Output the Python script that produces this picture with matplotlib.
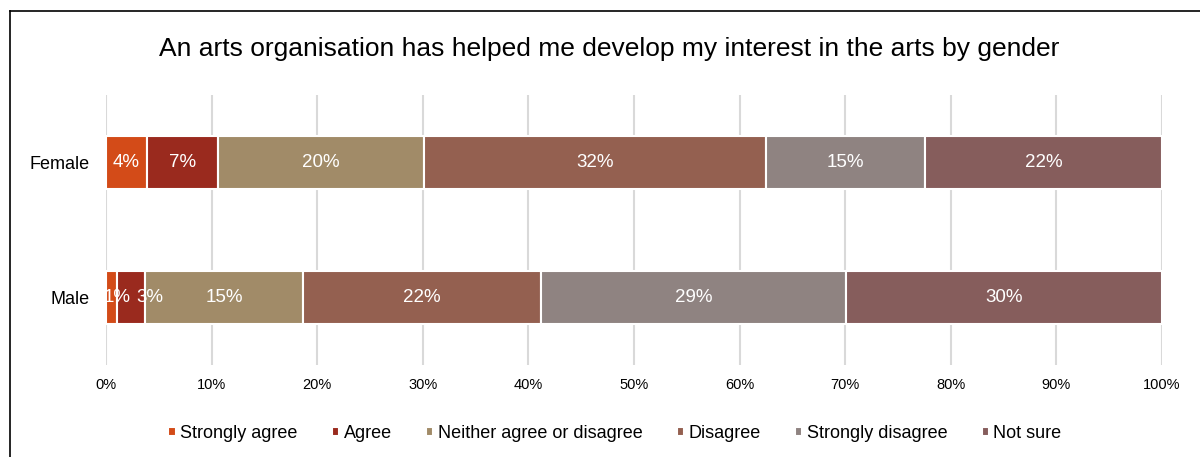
import matplotlib.pyplot as plt
from matplotlib.lines import Line2D

plt.rcParams['font.family'] = ['Liberation Sans', 'DejaVu Sans']

groups = ['Male', 'Female']
responses = ['Strongly agree', 'Agree', 'Neither agree or disagree',
             'Disagree', 'Strongly disagree', 'Not sure']
# percentages per response, ordered [Male, Female]
strongly_agree = [1.0, 3.9]
agree = [2.7, 6.7]
neither = [15.0, 19.5]
disagree = [22.5, 32.4]
strongly_disagree = [28.9, 15.1]
not_sure = [29.9, 22.4]
labels_male = ['1%', '3%', '15%', '22%', '29%', '30%']
labels_female = ['4%', '7%', '20%', '32%', '15%', '22%']
colors = ['#D34B18', '#9A2A1E', '#A18B68', '#946050', '#8F8381', '#865D5C']

series = [strongly_agree, agree, neither, disagree, strongly_disagree, not_sure]

# small labels on thin male segments get pushed right (like Excel does)
nudge_male = [0.6, 1.8, 0, 0, 0, 0]

fig = plt.figure(figsize=(12, 4.57), dpi=100)
ax = fig.add_axes([0.0883, 0.2013, 0.88, 0.591])

left = [0.0, 0.0]
for i, vals in enumerate(series):
    bars = ax.barh([0, 1], vals, left=left, height=0.39, color=colors[i],
                   edgecolor='white', linewidth=1.5, zorder=3, label=responses[i])
    for j, b in enumerate(bars):
        txt = labels_male[i] if j == 0 else labels_female[i]
        dx = nudge_male[i] if j == 0 else 0
        ax.text(left[j] + vals[j] / 2 + dx, j, txt, ha='center', va='center',
                color='white', fontsize=13.5, zorder=4)
    left = [left[k] + vals[k] for k in range(2)]

ax.set_xlim(0, 100)
ax.set_ylim(-0.5, 1.5)
ax.set_xticks(range(0, 101, 10))
ax.set_xticklabels([f'{v}%' for v in range(0, 101, 10)], fontsize=10.5)
ax.set_yticks([0, 1])
ax.set_yticklabels(groups, fontsize=13)
ax.tick_params(length=0, pad=9)
ax.tick_params(axis='y', pad=12)
ax.grid(axis='x', color='#D9D9D9', linewidth=1.5, zorder=0)
for s in ax.spines.values():
    s.set_visible(False)

fig.suptitle('An arts organisation has helped me develop my interest in the arts by gender',
             x=0.508, y=0.918, fontsize=19)

leg = ax.legend(loc='center', bbox_to_anchor=(0.482, -0.255), ncol=6, frameon=False,
                fontsize=13, handlelength=0.4, handleheight=0.4, handletextpad=0.25,
                columnspacing=1.9)

# chart border (left and top visible)
fig.add_artist(Line2D([10 / 1200, 10 / 1200], [0, 1 - 11 / 457], color='black', linewidth=1.2))
fig.add_artist(Line2D([10 / 1200, 1], [1 - 11 / 457, 1 - 11 / 457], color='black', linewidth=1.2))

fig.savefig('out.png', dpi=100)
